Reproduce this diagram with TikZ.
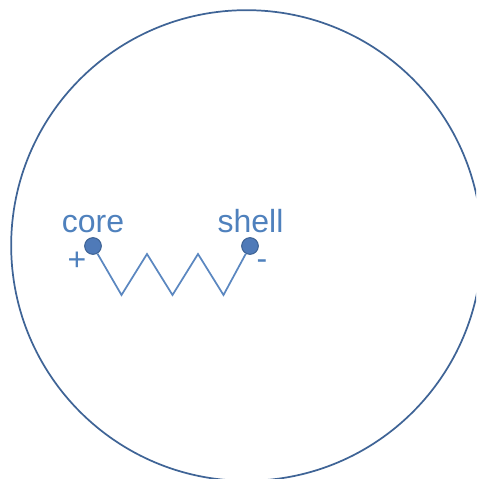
\documentclass[tikz,border=0pt]{standalone}
\usepackage{fontspec}
\setmainfont{Liberation Sans}
\definecolor{ring}{HTML}{3F6496}
\definecolor{wire}{HTML}{5B87C0}
\definecolor{txt}{HTML}{4F81BD}
\definecolor{dotfill}{HTML}{4F7AB8}
\tikzset{
  px/.style={x=0.75pt,y=-0.75pt},
  lab/.style={text=txt,inner sep=0pt,font=\fontsize{24}{28}\selectfont,anchor=base},
  term/.style={circle,fill=dotfill,draw=ring,line width=0.8pt,minimum size=12.5pt,inner sep=0pt}
}
\begin{document}
\begin{tikzpicture}[px]
\useasboundingbox (0,0) rectangle (476,479);
\begin{scope}
\clip (0,0) rectangle (476,479);
\node[circle,draw=ring,line width=1.3pt,minimum size=353pt,inner sep=0pt] (outer) at (246.5,245.5) {};
\end{scope}
\coordinate (z1) at (121.5,295);
\coordinate (z2) at (147,254);
\coordinate (z3) at (172.5,295);
\coordinate (z4) at (198,254);
\coordinate (z5) at (223.5,295);
\node[term] (core) at (93,246) {};
\node[term] (shell) at (250,246) {};
\draw[wire,line width=1.3pt,line join=miter] (core) -- (z1) -- (z2) -- (z3) -- (z4) -- (z5) -- (shell);
\node[lab] (corelabel) at (93,232) {core};
\node[lab] (shelllabel) at (250.5,232) {shell};
\node[lab] (plus) at (77,270) {+};
\node[lab] (minus) at (262,269) {-};
\end{tikzpicture}
\end{document}
